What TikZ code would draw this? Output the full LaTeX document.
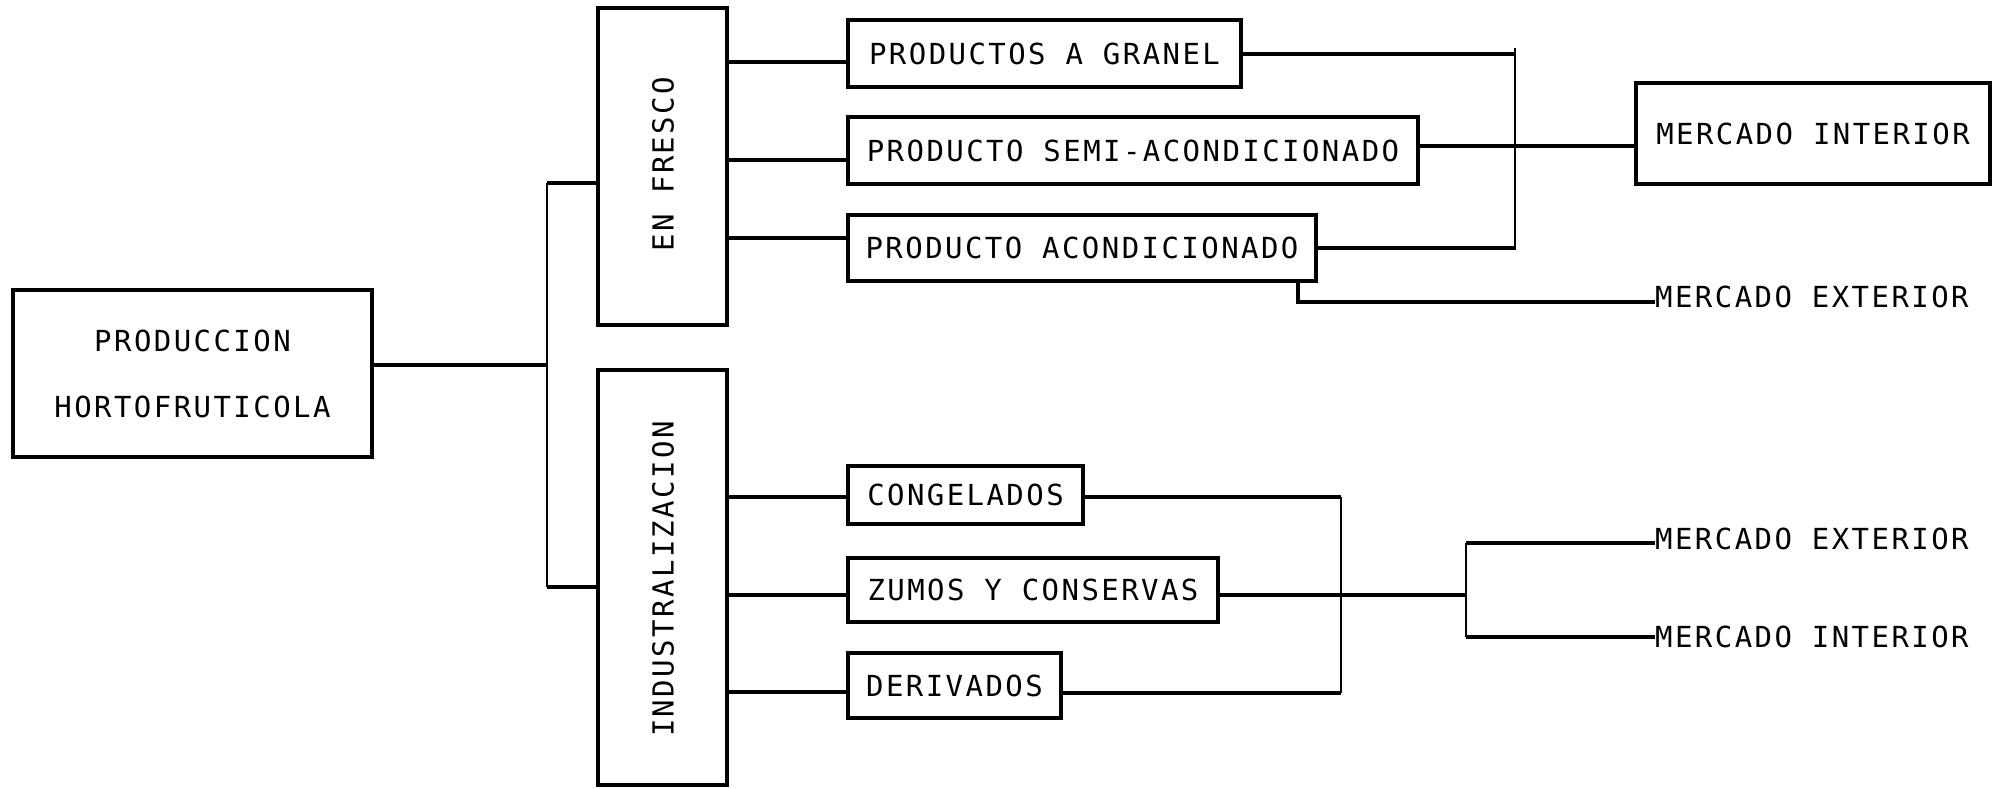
\documentclass[tikz,border=0pt]{standalone}
\usepackage{fontspec}
\newfontfamily\dm[LetterSpace=8.4]{DejaVu Sans Mono}
\begin{document}
\begin{tikzpicture}[x=1pt,y=-1pt,
 box/.style={draw, line width=4pt, inner sep=0pt, font={\fontsize{29}{34}\dm}},
 vtext/.style={rotate=90, inner sep=0pt, font={\fontsize{29}{34}\dm}},
 conn/.style={line width=4pt},
 bus/.style={line width=2.5pt},
 lbl/.style={inner sep=0pt, anchor=west, font={\fontsize{29}{34}\dm}}]
\useasboundingbox (0,0) rectangle (2009,788);
% nodes
\node[box, minimum width=359pt, minimum height=167pt, align=center, font={\fontsize{29}{66}\dm}] (prod) at (192.5,373.5) {PRODUCCION\\HORTOFRUTICOLA};
\node[box, minimum width=129pt, minimum height=317pt] (fresco) at (662.5,166.5) {};
\node[vtext] (frescot) at (663,164) {EN FRESCO};
\node[box, minimum width=129pt, minimum height=415pt] (indus) at (662.5,577.5) {};
\node[vtext] (indust) at (663,579) {INDUSTRALIZACION};
\node[box, minimum width=393pt, minimum height=67pt] (gran) at (1044.5,53.5) {PRODUCTOS A GRANEL};
\node[box, minimum width=570pt, minimum height=67pt] (semi) at (1133,150.5) {PRODUCTO SEMI-ACONDICIONADO};
\node[box, minimum width=468pt, minimum height=66pt] (acon) at (1082,248) {PRODUCTO ACONDICIONADO};
\node[box, minimum width=354pt, minimum height=101pt] (mi1) at (1813,133.5) {MERCADO INTERIOR};
\node[lbl] (me1) at (1655,297) {MERCADO EXTERIOR};
\node[box, minimum width=235pt, minimum height=58pt] (cong) at (965.5,495) {CONGELADOS};
\node[box, minimum width=370pt, minimum height=64pt] (zumo) at (1033,590) {ZUMOS Y CONSERVAS};
\node[box, minimum width=213pt, minimum height=65pt] (deri) at (954.5,685.5) {DERIVADOS};
\node[lbl] (me2) at (1655,539) {MERCADO EXTERIOR};
\node[lbl] (mi2) at (1655,637) {MERCADO INTERIOR};
% left junction
\coordinate (j1) at (547,365);
\coordinate (jt) at (547,183);
\coordinate (jb) at (547,587);
\draw[conn] (prod.east |- j1) -- (j1);
\draw[bus] (jt) -- (jb);
\draw[conn] (jt) -- (fresco.west |- jt);
\draw[conn] (jb) -- (indus.west |- jb);
% en fresco to products
\coordinate (a1) at ([yshift=-8.5pt]gran.west);
\coordinate (a2) at ([yshift=-9.5pt]semi.west);
\coordinate (a3) at ([yshift=10pt]acon.west);
\draw[conn] (a1 -| fresco.east) -- (a1);
\draw[conn] (a2 -| fresco.east) -- (a2);
\draw[conn] (a3 -| fresco.east) -- (a3);
% right bus (upper)
\coordinate (rt) at (1515,48);
\coordinate (rb) at (1515,250);
\draw[bus] (rt) -- (rb);
\draw[conn] (gran.east) -- (gran.east -| rt);
\draw[conn] (acon.east) -- (acon.east -| rt);
\coordinate (s1) at ([yshift=5pt]semi.east);
\draw[conn] (s1) -- (s1 -| mi1.west);
\coordinate (k1) at (1298,302);
\draw[conn] (acon.south -| k1) -- (k1) -- (me1.west |- k1);
% industrializacion to products
\coordinate (i1) at ([yshift=-2pt]cong.west);
\coordinate (i2) at ([yshift=-5pt]zumo.west);
\coordinate (i3) at ([yshift=-6.5pt]deri.west);
\draw[conn] (i1 -| indus.east) -- (i1);
\draw[conn] (i2 -| indus.east) -- (i2);
\draw[conn] (i3 -| indus.east) -- (i3);
% lower buses
\coordinate (b2t) at (1341,497);
\coordinate (b2b) at (1341,693);
\draw[conn] (cong.east |- b2t) -- (b2t);
\draw[conn] (deri.east |- b2b) -- (b2b);
\draw[bus] (b2t) -- (b2b);
\coordinate (z1) at (1466,595);
\draw[conn] (zumo.east |- z1) -- (z1);
\coordinate (b3t) at (1466,543);
\coordinate (b3b) at (1466,637);
\draw[bus] (b3t) -- (b3b);
\draw[conn] (b3t) -- (me2.west |- b3t);
\draw[conn] (b3b) -- (mi2.west |- b3b);
\end{tikzpicture}
\end{document}
